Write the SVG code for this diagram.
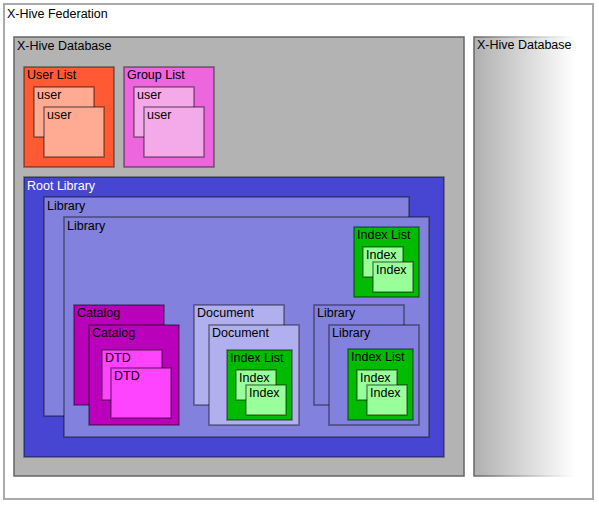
<svg xmlns="http://www.w3.org/2000/svg" width="599" height="505" viewBox="0 0 599 505">
<style>
text{font-family:"Liberation Sans",Arial,sans-serif;font-size:12.5px;fill:#000}
.n{stroke:#000;stroke-opacity:0.45;stroke-width:1.5}
.db{fill:#b3b3b3;stroke:#666;stroke-width:1.5}
.ul{fill:#ff5a33}.u{fill:#ffab93}
.gl{fill:#ee66dd}.g{fill:#f4aae8}
.rl{fill:#4646d2}.lib{fill:#8282de}
.il{fill:#00bb00}.ix{fill:#99ff99}
.cat{fill:#bb00bb}.dtd{fill:#ff44ff}
.doc{fill:#b0b0ee}
</style>
<defs>
<linearGradient id="fade" x1="0" y1="0" x2="1" y2="0">
<stop offset="0" stop-color="#b0b0b0"/>
<stop offset="0.9" stop-color="#ffffff"/>
</linearGradient>
<linearGradient id="fadeS" x1="0" y1="0" x2="1" y2="0">
<stop offset="0" stop-color="#666"/>
<stop offset="0.9" stop-color="#fff"/>
</linearGradient>
</defs>
<g id="federation">
<rect x="4" y="4" width="589" height="495" fill="#fff" stroke="#aaa" stroke-width="2"/>
<text x="7" y="18">X-Hive Federation</text>
</g>
<g id="database1">
<rect class="db" x="14" y="37" width="450" height="439"/>
<text x="17" y="50">X-Hive Database</text>
</g>
<g id="database2">
<rect x="474" y="37" width="112" height="439" fill="url(#fade)" stroke="url(#fadeS)" stroke-width="1.5"/>
<text x="477" y="49">X-Hive Database</text>
</g>
<g id="userlist">
<rect class="n ul" x="24" y="67" width="90" height="100"/>
<text x="27" y="79">User List</text>
</g>
<g id="user1"><rect class="n u" x="34" y="87" width="60" height="50"/><text x="37" y="99">user</text></g>
<g id="user2"><rect class="n u" x="44" y="107" width="60" height="50"/><text x="47" y="119">user</text></g>
<g id="grouplist">
<rect class="n gl" x="124" y="67" width="90" height="100"/>
<text x="127" y="79">Group List</text>
</g>
<g id="guser1"><rect class="n g" x="134" y="87" width="60" height="50"/><text x="137" y="99">user</text></g>
<g id="guser2"><rect class="n g" x="144" y="107" width="60" height="50"/><text x="147" y="119">user</text></g>
<g id="rootlibrary">
<rect class="n rl" x="24" y="177" width="420" height="280"/>
<text x="27" y="190" style="fill:#fff">Root Library</text>
</g>
<g id="library1"><rect class="n lib" x="44" y="197" width="365" height="219"/><text x="47" y="210">Library</text></g>
<g id="library2"><rect class="n lib" x="64" y="217" width="365" height="220"/><text x="67" y="230">Library</text></g>
<g id="indexlist1"><rect class="n il" x="354" y="227" width="65" height="70"/><text x="357" y="239">Index List</text></g>
<g id="index1a"><rect class="n ix" x="363" y="247" width="40" height="30"/><text x="366" y="259">Index</text></g>
<g id="index1b"><rect class="n ix" x="373" y="262" width="40" height="30"/><text x="376" y="274">Index</text></g>
<g id="catalog1"><rect class="n cat" x="74" y="305" width="90" height="100"/><text x="77" y="317">Catalog</text></g>
<g id="catalog2"><rect class="n cat" x="89" y="325" width="90" height="100"/><text x="92" y="337">Catalog</text></g>
<g id="dtd1"><rect class="n dtd" x="102" y="350" width="60" height="50"/><text x="105" y="362">DTD</text></g>
<g id="dtd2"><rect class="n dtd" x="111" y="368" width="60" height="50"/><text x="114" y="380">DTD</text></g>
<g id="document1"><rect class="n doc" x="194" y="305" width="90" height="100"/><text x="197" y="317">Document</text></g>
<g id="document2"><rect class="n doc" x="209" y="325" width="90" height="100"/><text x="212" y="337">Document</text></g>
<g id="indexlist2"><rect class="n il" x="227" y="350" width="65" height="70"/><text x="230" y="362">Index List</text></g>
<g id="index2a"><rect class="n ix" x="236" y="370" width="40" height="30"/><text x="239" y="382">Index</text></g>
<g id="index2b"><rect class="n ix" x="246" y="385" width="40" height="30"/><text x="249" y="397">Index</text></g>
<g id="library3"><rect class="n lib" x="314" y="305" width="90" height="100"/><text x="317" y="317">Library</text></g>
<g id="library4"><rect class="n lib" x="329" y="325" width="90" height="100"/><text x="332" y="337">Library</text></g>
<g id="indexlist3"><rect class="n il" x="348" y="349" width="65" height="71"/><text x="351" y="361">Index List</text></g>
<g id="index3a"><rect class="n ix" x="357" y="370" width="40" height="30"/><text x="360" y="382">Index</text></g>
<g id="index3b"><rect class="n ix" x="367" y="385" width="40" height="30"/><text x="370" y="397">Index</text></g>
<g id="connectors"></g>
</svg>
